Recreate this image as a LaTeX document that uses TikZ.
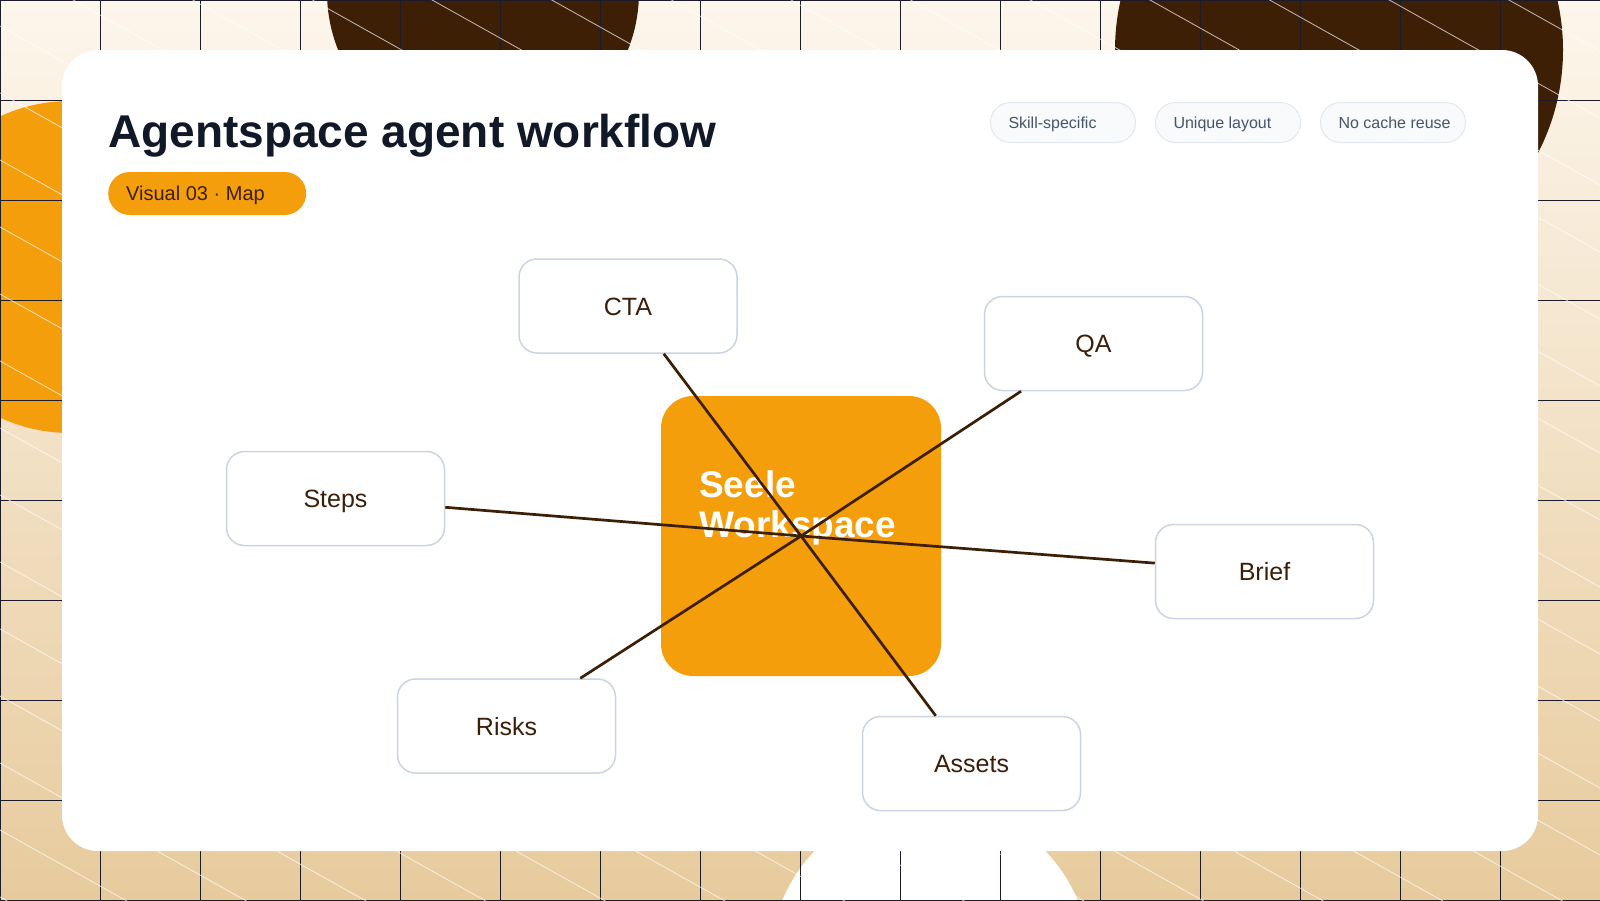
\documentclass[tikz,border=0pt]{standalone}
\usepackage{fontspec}
\setmainfont{Liberation Sans}
\usetikzlibrary{calc}

\definecolor{seeleorange}{RGB}{245,158,11}
\definecolor{seelebrown}{RGB}{61,31,6}
\definecolor{inkbrown}{RGB}{59,31,10}
\definecolor{titleink}{RGB}{17,24,39}
\definecolor{gridink}{RGB}{28,27,42}
\definecolor{creamtop}{RGB}{253,246,236}
\definecolor{tanbottom}{RGB}{231,203,157}
\definecolor{boxline}{RGB}{203,213,225}
\definecolor{tagfill}{RGB}{248,250,252}
\definecolor{tagline}{RGB}{226,232,240}
\definecolor{tagink}{RGB}{71,85,105}

\tikzset{
	gridline/.style={gridink, line width=1pt},
	hatch/.style={white, line width=0.8pt, opacity=0.7},
	topic/.style={draw=boxline, line width=1.5pt, fill=white, rounded corners=18pt, minimum width=218pt, minimum height=94pt, text height=18pt, text depth=0pt, text=inkbrown, font=\fontsize{25}{30}\selectfont},
	hub/.style={fill=seeleorange, rounded corners=32pt, minimum width=280pt, minimum height=280pt},
	link/.style={seelebrown, line width=2.7pt},
	tagpill/.style={draw=tagline, line width=1pt, fill=tagfill, rounded corners=20pt, minimum height=40pt, inner xsep=18pt, text height=11.5pt, text depth=0pt, text=tagink, font=\fontsize{16}{19}\selectfont},
	vispill/.style={fill=seeleorange, rounded corners=21.5pt, minimum height=43pt, inner xsep=18pt, text height=14.3pt, text depth=0pt, text=inkbrown, font=\fontsize{20}{24}\selectfont}
}

\begin{document}
\begin{tikzpicture}[x=1pt, y=-1pt]
	
	\useasboundingbox (0,0) rectangle (1600,900);
	\begin{scope}
		\clip (0,0) rectangle (1600,900);
		\shade[top color=creamtop, bottom color=tanbottom] (0,0) rectangle (1600,900);
		% round shapes behind the card
		\fill[seeleorange] (70,267) circle (166pt);
		\fill[seelebrown] (483,-8) circle (156pt);
		\fill[seelebrown] (1339,50) circle (224pt);
		\fill[white] (930,962) circle (160pt);
		\foreach \gx in {0,100,...,1600}
			\draw[gridline] (\gx,0) -- (\gx,900);
		\foreach \gy in {0,100,...,900}
			\draw[gridline] (0,\gy) -- (1600,\gy);
		\foreach \k in {-14,...,13}
			\draw[hatch] (0,26+67*\k) -- (1600,922+67*\k);
	\end{scope}
	
	\fill[white, rounded corners=36pt] (62,50) rectangle (1538,851);
	
	\node[anchor=base west, inner sep=0pt, text=titleink, font=\fontsize{46}{55}\selectfont\bfseries] (title) at (108,147) {Agentspace agent workflow};
	\node[vispill, anchor=west] (visual) at (108,193.5) {\makebox[162pt][l]{Visual 03 · Map}};
	
	\foreach \x/\t in {990/Skill-specific, 1155/Unique layout, 1320/No cache reuse}{
		\node[tagpill, anchor=west] (tag\x) at (\x,122.5) {\makebox[109pt][l]{\t}};
	}
	
	\node[hub] (hub) at (801,536) {};
	\node[anchor=base west, inner sep=0pt, align=left, text=white, font=\fontsize{37}{40}\selectfont\bfseries] (hubtext) at (699,537) {Seele\\Workspace};
	
	\node[topic] (cta) at (628,306) {CTA};
	\node[topic] (qa) at (1093.5,343.5) {QA};
	\node[topic] (steps) at (335.5,498.5) {Steps};
	\node[topic] (brief) at (1264.5,571.5) {Brief};
	\node[topic] (risks) at (506.5,726) {Risks};
	\node[topic] (assets) at (971.5,763.5) {Assets};
	
	\foreach \n in {cta,qa,steps,brief,risks,assets}
		\draw[link] (hub.center) -- (\n);
	
\end{tikzpicture}
\end{document}
